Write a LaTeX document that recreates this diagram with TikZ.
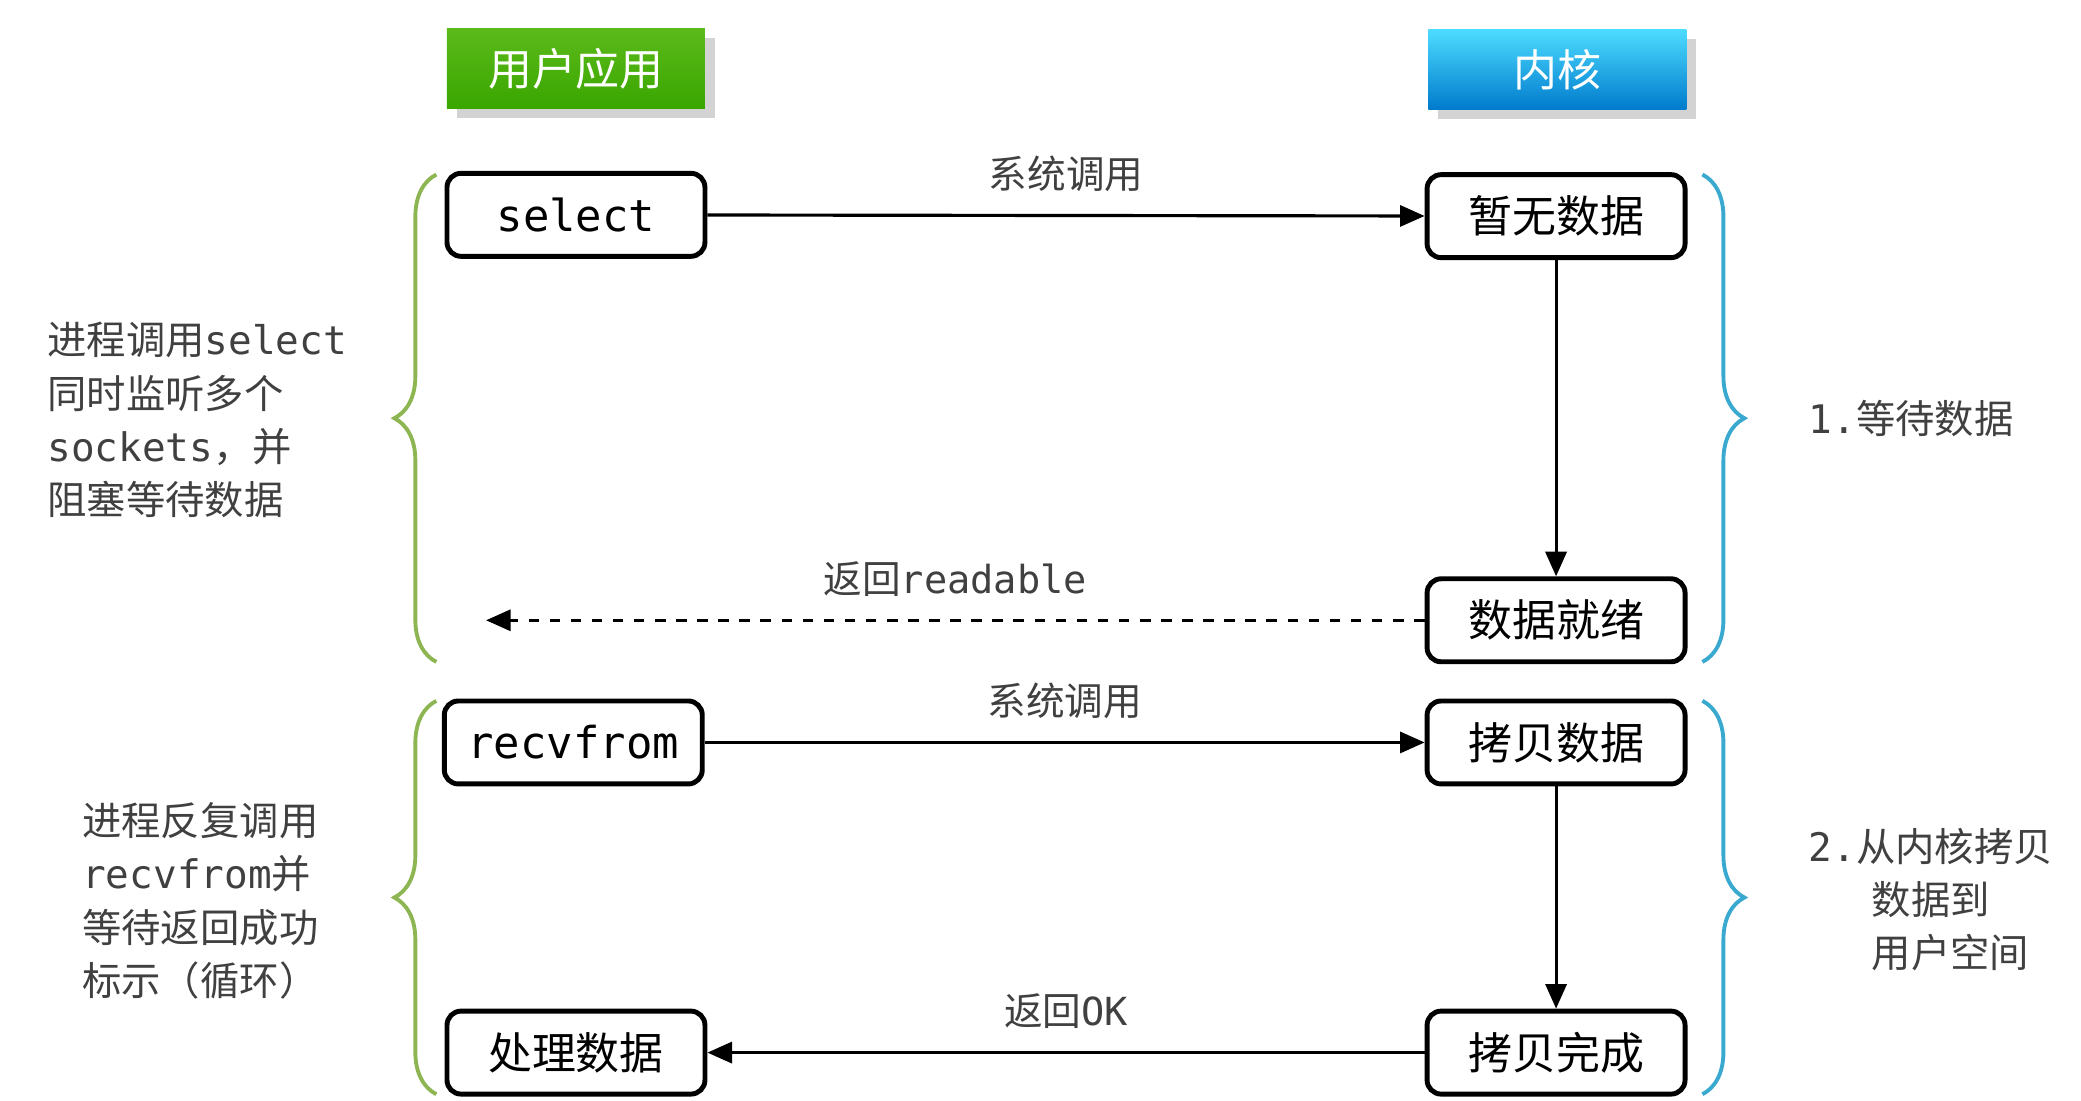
\documentclass[tikz,border=0pt]{standalone}
\usepackage{fontspec}
\setmainfont{Noto Sans CJK SC}
\newfontfamily\mono{DejaVu Sans Mono}
\usetikzlibrary{arrows.meta,decorations.pathreplacing,shadows}
\definecolor{txtgray}{HTML}{404040}
\definecolor{greenbr}{HTML}{8DB552}
\definecolor{bluebr}{HTML}{3AA9CF}
\tikzset{
  stepbox/.style={draw, line width=1.4pt, rounded corners=4pt, minimum width=2.58cm, minimum height=0.83cm, font=\fontsize{12.5}{14}\selectfont},
  headbox/.style={minimum width=2.58cm, minimum height=0.8cm, text=white, font=\fontsize{12.5}{14}\selectfont, drop shadow={opacity=0.35}},
  call/.style={-{Triangle[length=7pt,width=6pt]}, line width=0.9pt},
  lbl/.style={text=txtgray, font=\fontsize{11}{13}\selectfont},
  side/.style={text=txtgray, align=left, anchor=west, font=\fontsize{11.2}{15.2}\selectfont},
  brace/.style={decorate, decoration={brace, amplitude=0.42cm}, line width=1.1pt}
}
\begin{document}
\begin{tikzpicture}[x=0.013426cm, y=-0.013426cm]
  \useasboundingbox (0,0) rectangle (1550,820);
  % headers
  \node[headbox, top color=green!45!lime!70!black!90, bottom color=green!50!black!70!lime] (app) at (429,51) {用户应用};
  \node[headbox, top color=cyan!80!blue!70, bottom color=cyan!60!blue!80!black] (kern) at (1160,52) {内核};
  % steps
  \node[stepbox] (select) at (429,160) {\mono select};
  \node[stepbox] (nodata) at (1159,161) {暂无数据};
  \node[stepbox] (ready) at (1159,462) {数据就绪};
  \node[stepbox] (recv) at (427,553) {\mono recvfrom};
  \node[stepbox] (copy) at (1159,553) {拷贝数据};
  \node[stepbox] (handle) at (429,784) {处理数据};
  \node[stepbox] (done) at (1159,784) {拷贝完成};
  \coordinate (back) at (362,462);
  % connectors
  \draw[call] (select) -- node[lbl, above=3pt] {系统调用} (nodata);
  \draw[call] (nodata) -- (ready);
  \draw[call, dashed] (ready) -- node[lbl, above=3pt] {返回{\mono readable}} (back);
  \draw[call] (recv) -- node[lbl, above=3pt] {系统调用} (copy);
  \draw[call] (copy) -- (done);
  \draw[call] (done) -- node[lbl, above=3pt] {返回{\mono OK}} (handle);
  % braces
  \draw[brace, greenbr] (325,493) -- (325,130);
  \draw[brace, bluebr] (1268,130) -- (1268,493);
  \draw[brace, greenbr] (325,815) -- (325,522);
  \draw[brace, bluebr] (1268,522) -- (1268,815);
  % side notes
  \node[side] (note1) at (26,313) {进程调用{\mono select}\\同时监听多个\\{\mono sockets}，并\\阻塞等待数据};
  \node[side] (note2) at (52,671) {进程反复调用\\{\mono recvfrom}并\\等待返回成功\\标示（循环）};
  \node[side] (wait) at (1338,312) {{\mono 1.}等待数据};
  \node[side] (copynote) at (1338,670) {{\mono 2.}从内核拷贝\\\hspace*{1.6em}数据到\\\hspace*{1.6em}用户空间};
\end{tikzpicture}
\end{document}
